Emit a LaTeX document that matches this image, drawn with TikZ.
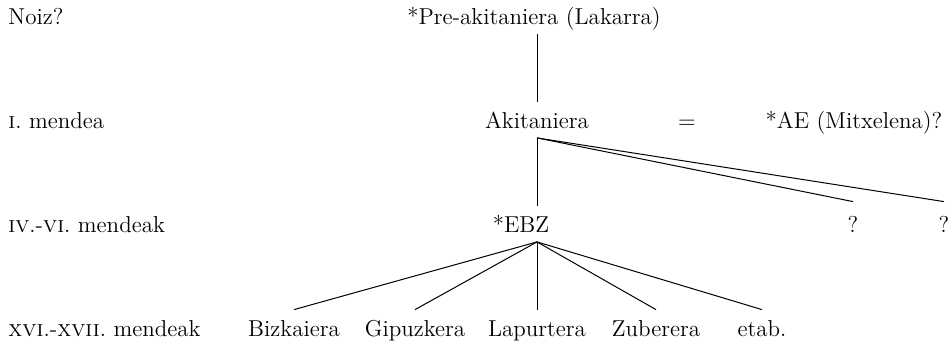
\documentclass[tikz,border=0pt]{standalone}
\frenchspacing
\begin{document}
\begin{tikzpicture}[
	    x=0.5pt, y=-0.5pt,
	    onlytext/.style={font=\fontsize{11.5}{13.5}\selectfont, inner xsep=0pt, inner ysep=2.5pt, text height=10.5pt, text depth=2.25pt, anchor=base},
	    rowtext/.style={onlytext, anchor=base west},
	    qtext/.style={onlytext, text height=12.5pt},
	    normalline/.style={-, line width=0.5pt},
	]
		\useasboundingbox (0,0) rectangle (952,344);

		\node[rowtext] (noiz) at (8,24) {Noiz?};
		\node[rowtext] (mendea) at (8,128) {\textsc{i}. mendea};
		\node[rowtext] (mendeakiv) at (8,232) {\textsc{iv}.-\textsc{vi}. mendeak};
		\node[rowtext] (mendeakxvi) at (8,336) {\textsc{xvi}.-\textsc{xvii}. mendeak};

		\node[onlytext] (preakit) at (534,24) {*Pre-akitaniera (Lakarra)};
		\node[onlytext] (akit) at (537,128) {Akitaniera};
		\node[onlytext] (berdin) at (687,128) {=};
		\node[onlytext] (ae) at (854,128) {*AE (Mitxelena)?};

		\node[onlytext] (ebz) at (521,232) {*EBZ};
		\node[qtext] (galdera) at (853,232) {?};
		\node[qtext] (galderabi) at (944,232) {?};

		\node[onlytext] (bizk) at (294,336) {Bizkaiera};
		\node[onlytext] (gipuz) at (415,336) {Gipuzkera};
		\node[onlytext] (lapurt) at (537,336) {Lapurtera};
		\node[onlytext] (zuber) at (656,336) {Zuberera};
		\node[onlytext] (etab) at (762,336) {etab.};

		\coordinate (ebztop) at (ebz.north -| akit.south);
		\coordinate (ebzroot) at (ebz.south -| akit.south);

		\draw [normalline] (preakit.south -| akit.south) -- (akit.north);
		\draw [normalline] (akit.south) -- (ebztop);
		\draw [normalline] (akit.south) -- (galdera.north);
		\draw [normalline] (akit.south) -- (galderabi.north);

		\draw [normalline] (ebzroot) -- (bizk.north);
		\draw [normalline] (ebzroot) -- (gipuz.north);
		\draw [normalline] (ebzroot) -- (lapurt.north);
		\draw [normalline] (ebzroot) -- (zuber.north);
		\draw [normalline] (ebzroot) -- (etab.north);
	\end{tikzpicture}
\end{document}
